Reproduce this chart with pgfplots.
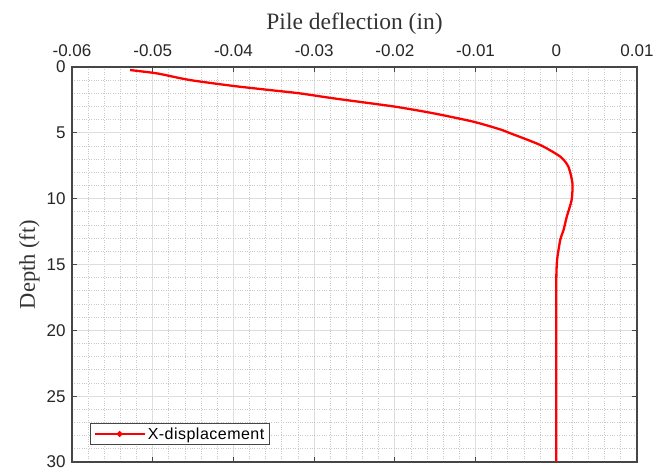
\documentclass[border=0pt]{standalone}
\usepackage{fontspec}
\setmainfont{Liberation Serif}
\newfontfamily\arialf{Liberation Sans}[LetterSpace=3]
\newfontfamily\arialt{Liberation Sans}
\usepackage{pgfplots}
\pgfplotsset{compat=1.18}
\definecolor{axgray}{RGB}{70,70,70}
\definecolor{majgrid}{RGB}{222,222,222}
\definecolor{mingrid}{RGB}{200,200,200}
\begin{document}
\begin{tikzpicture}
\begin{axis}[
  scale only axis,
  width=565pt, height=395pt,
  xmin=-0.06, xmax=0.01,
  ymin=0, ymax=30,
  y dir=reverse,
  scaled x ticks=false,
  xtick={-0.06,-0.05,-0.04,-0.03,-0.02,-0.01,0,0.01},
  xticklabels={-0.06,-0.05,-0.04,-0.03,-0.02,-0.01,0,0.01},
  ytick={0,5,10,15,20,25,30},
  minor x tick num=4,
  minor y tick num=4,
  xticklabel pos=upper,
  xlabel={Pile deflection (in)},
  ylabel={Depth (ft)},
  xlabel style={font=\fontsize{23.5}{26}\selectfont, color=black!80, yshift=3pt},
  ylabel style={font=\fontsize{22.5}{25}\selectfont, color=black!80, yshift=0pt},
  ticklabel style={font=\arialt\fontsize{17}{19}\selectfont, color=black!85},
  xticklabel style={yshift=7pt},
  yticklabel style={xshift=-3pt},
  /pgf/number format/assume math mode=true,
  tick align=inside,
  major tick length=5pt,
  minor tick length=0pt,
  tick style={axgray, line width=1pt},
  axis line style={axgray, line width=1.1pt},
  grid=both,
  major grid style={majgrid, line width=1.2pt},
  minor grid style={mingrid, dotted, line width=0.8pt},
  legend style={at={(axis description cs:0.032,0.043)}, anchor=south west,
    font=\arialf\fontsize{16}{18}\selectfont, draw=axgray, line width=1pt,
    inner xsep=3pt, inner ysep=2pt, fill=white},
  legend cell align=left,
  legend image code/.code={
    \draw[#1, line width=2.2pt] (0pt,0pt) -- (50pt,0pt);
    \fill[red] (25pt,0pt) circle (1.6pt);
  },
]
\addplot[red, line width=2.3pt, smooth, tension=0.4] coordinates {
(-0.0528,0.23)
(-0.0501,0.43)
(-0.0489,0.55)
(-0.0454,0.99)
(-0.0400,1.44)
(-0.0355,1.75)
(-0.0318,2.0)
(-0.0276,2.38)
(-0.0200,3.01)
(-0.0152,3.52)
(-0.0103,4.15)
(-0.0070,4.73)
(-0.0057,5.03)
(-0.0020,5.92)
(0.0005,6.81)
(0.0015,7.57)
(0.0020,8.83)
(0.0019,10.1)
(0.0013,11.37)
(0.0009,12.38)
(0.0005,13.1)
(0.0001,14.65)
(0.0000,16.2)
(0.0000,20)
(0.0000,25)
(0.0000,30)
};
\addlegendentry{X-displacement}
\end{axis}
\pgfresetboundingbox
\path ([xshift=-72pt,yshift=-8pt]current axis.south west) rectangle ([xshift=22pt,yshift=67pt]current axis.north east);
\end{tikzpicture}
\end{document}
